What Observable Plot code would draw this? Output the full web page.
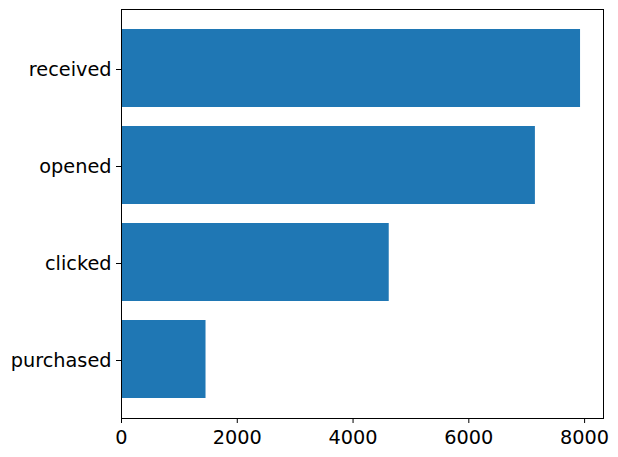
<!DOCTYPE html>
<html>
<head>
<meta charset="utf-8">
<script src="https://cdn.jsdelivr.net/npm/d3@7"></script>
<script src="https://cdn.jsdelivr.net/npm/@observablehq/plot@0.6"></script>
<style>
  html, body { margin: 0; padding: 0; background: #fff; }
  #chart svg { display: block; }
</style>
</head>
<body>
<div id="chart"></div>
<script>
const stages = ["received", "opened", "clicked", "purchased"];
const counts = [7930, 7150, 4625, 1460];
const xTicks = [0, 2000, 4000, 6000, 8000];

const data = stages.map((s, i) => ({stage: s, count: counts[i]}));
const xMax = Math.max(...counts) * 1.05;

const chart = Plot.plot({
  width: 618,
  height: 457,
  marginLeft: 121,
  marginRight: 15,
  marginTop: 9,
  marginBottom: 39,
  style: {fontFamily: "DejaVu Sans", fontSize: "19.3px", color: "black", background: "white"},
  x: {domain: [0, xMax]},
  y: {domain: stages, paddingInner: 0.2, paddingOuter: 0.19},
  marks: [
    Plot.barX(data, {x: "count", y: "stage", fill: "#1f77b4"}),
    Plot.frame({stroke: "black", strokeWidth: 1}),
    Plot.axisX({ticks: xTicks, tickFormat: d => String(d), tickSize: 5, tickPadding: 7, label: null, fontSize: 19.3}),
    Plot.axisY({tickSize: 5, tickPadding: 5, label: null, fontSize: 19.3, dy: 1})
  ]
});
document.getElementById("chart").appendChild(chart);
</script>
</body>
</html>
